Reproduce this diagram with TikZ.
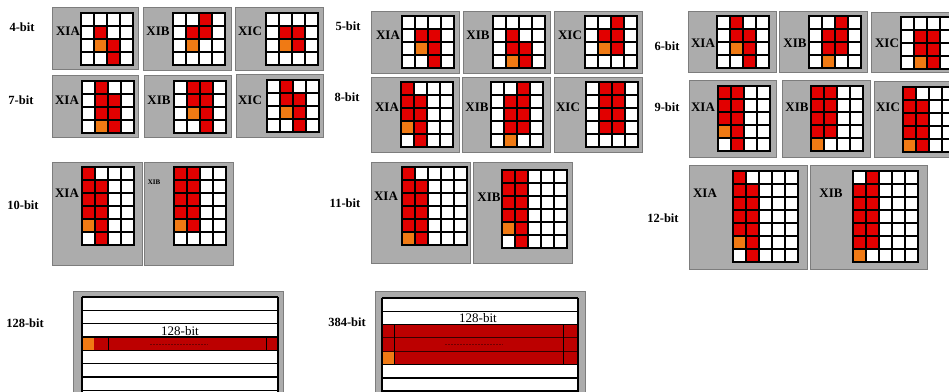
\documentclass[tikz,border=0pt]{standalone}
\usepackage{fontspec}
\setmainfont{Liberation Serif}

\definecolor{panelgray}{RGB}{172,172,172}
\definecolor{paneledge}{RGB}{125,125,125}
\definecolor{bitred}{RGB}{226,0,0}
\definecolor{bitorange}{RGB}{240,122,20}
\definecolor{rowred}{RGB}{188,0,0}

% one grid of cells: origin, columns, rows, coloured cells (col/row/colour)
\newcommand{\bitgrid}[4]{%
  \begin{scope}[shift={#1}]
    \fill[white] (0,0) rectangle (13*#2,13*#3);
    \foreach \cx/\ry/\kk in {#4}
      \fill[\kk] (13*\cx,13*\ry) rectangle ++(13,13);
    \foreach \i in {0,...,#2}
      \draw[cellline] (13*\i,0) -- (13*\i,13*#3);
    \foreach \j in {0,...,#3}
      \draw[cellline] (0,13*\j) -- (13*#2,13*\j);
  \end{scope}}

\begin{document}
\begin{tikzpicture}[
x=1pt, y=-1pt,
panel/.style={fill=panelgray, draw=paneledge, line width=0.8pt},
cellline/.style={black, line width=1.6pt, line cap=rect},
rowline/.style={black, line width=1.6pt},
sizelabel/.style={font=\bfseries\fontsize{12.5}{14}\selectfont, inner sep=0pt},
tag/.style={font=\bfseries\fontsize{13}{14}\selectfont, inner sep=0pt},
smalltag/.style={font=\bfseries\fontsize{7}{8}\selectfont, inner sep=0pt},
rowtext/.style={font=\fontsize{13}{14}\selectfont, inner sep=0pt},
gapline/.style={rowred!60!black, dash pattern=on 2pt off 1pt, line width=0.6pt}
]
\useasboundingbox (0,0) rectangle (949,391);
\clip (0,0) rectangle (949,391);

% --- 4-bit ---
\node[sizelabel] (bit4) at (22,27) {4-bit};
\draw[panel] (52,7) rectangle (138,69);
\bitgrid{(81,13)}{4}{4}{1/1/bitred,2/2/bitred,2/3/bitred,1/2/bitorange}
\node[tag] (bit4a) at (68,31) {XIA};
\draw[panel] (143,7) rectangle (231,70);
\bitgrid{(173,13)}{4}{4}{2/0/bitred,1/1/bitred,2/1/bitred,1/2/bitorange}
\node[tag] (bit4b) at (158,31) {XIB};
\draw[panel] (235,7) rectangle (323,70);
\bitgrid{(266,13)}{4}{4}{1/1/bitred,2/1/bitred,2/2/bitred,1/2/bitorange}
\node[tag] (bit4c) at (250,31) {XIC};

% --- 7-bit ---
\node[sizelabel] (bit7) at (21,100) {7-bit};
\draw[panel] (52,75) rectangle (138,137);
\bitgrid{(82,81)}{4}{4}{1/0/bitred,1/1/bitred,1/2/bitred,2/1/bitred,2/2/bitred,2/3/bitred,1/3/bitorange}
\node[tag] (bit7a) at (67,100) {XIA};
\draw[panel] (144,75) rectangle (231,137);
\bitgrid{(174,81)}{4}{4}{1/0/bitred,1/1/bitred,2/0/bitred,2/1/bitred,2/2/bitred,2/3/bitred,1/2/bitorange}
\node[tag] (bit7b) at (159,100) {XIB};
\draw[panel] (236,74) rectangle (323,137);
\bitgrid{(267,80)}{4}{4}{1/0/bitred,1/1/bitred,2/1/bitred,2/2/bitred,2/3/bitred,1/2/bitorange}
\node[tag] (bit7c) at (250,100) {XIC};

% --- 5-bit ---
\node[sizelabel] (bit5) at (348,26) {5-bit};
\draw[panel] (371,11) rectangle (459,73);
\bitgrid{(402,16)}{4}{4}{1/1/bitred,2/1/bitred,2/2/bitred,2/3/bitred,1/2/bitorange}
\node[tag] (bit5a) at (388,35) {XIA};
\draw[panel] (463,11) rectangle (550,73);
\bitgrid{(493,16)}{4}{4}{1/1/bitred,1/2/bitred,2/2/bitred,2/3/bitred,1/3/bitorange}
\node[tag] (bit5b) at (478,35) {XIB};
\draw[panel] (554,11) rectangle (642,73);
\bitgrid{(585,16)}{4}{4}{2/0/bitred,2/1/bitred,2/2/bitred,1/1/bitred,1/2/bitorange}
\node[tag] (bit5c) at (570,35) {XIC};

% --- 8-bit ---
\node[sizelabel] (bit8) at (347,97) {8-bit};
\draw[panel] (371,77) rectangle (459,152);
\bitgrid{(401,82)}{4}{5}{0/0/bitred,0/1/bitred,0/2/bitred,1/1/bitred,1/2/bitred,1/3/bitred,1/4/bitred,0/3/bitorange}
\node[tag] (bit8a) at (387,107) {XIA};
\draw[panel] (462,77) rectangle (550,152);
\bitgrid{(491,82)}{4}{5}{2/0/bitred,2/1/bitred,2/2/bitred,2/3/bitred,1/1/bitred,1/2/bitred,1/3/bitred,1/4/bitorange}
\node[tag] (bit8b) at (477,107) {XIB};
\draw[panel] (554,77) rectangle (642,152);
\bitgrid{(586,82)}{4}{5}{1/0/bitred,1/1/bitred,1/2/bitred,1/3/bitred,2/0/bitred,2/1/bitred,2/2/bitred,2/3/bitred}
\node[tag] (bit8c) at (568,107) {XIC};

% --- 6-bit ---
\node[sizelabel] (bit6) at (667,46) {6-bit};
\draw[panel] (688,11) rectangle (776,72);
\bitgrid{(717,16)}{4}{4}{1/0/bitred,1/1/bitred,2/1/bitred,2/2/bitred,2/3/bitred,1/2/bitorange}
\node[tag] (bit6a) at (703,43) {XIA};
\draw[panel] (779,11) rectangle (867,72);
\bitgrid{(809,16)}{4}{4}{2/0/bitred,2/1/bitred,2/2/bitred,1/1/bitred,1/2/bitred,1/3/bitorange}
\node[tag] (bit6b) at (795,43) {XIB};
\draw[panel] (871,12) rectangle (960,72);
\bitgrid{(901,17)}{4}{4}{1/1/bitred,1/2/bitred,2/1/bitred,2/2/bitred,2/3/bitred,1/3/bitorange}
\node[tag] (bit6c) at (887,43) {XIC};

% --- 9-bit ---
\node[sizelabel] (bit9) at (667,107) {9-bit};
\draw[panel] (689,80) rectangle (776,157);
\bitgrid{(718,86)}{4}{5}{0/0/bitred,0/1/bitred,0/2/bitred,1/0/bitred,1/1/bitred,1/2/bitred,1/3/bitred,1/4/bitred,0/3/bitorange}
\node[tag] (bit9a) at (703,107) {XIA};
\draw[panel] (782,80) rectangle (870,157);
\bitgrid{(811,86)}{4}{5}{0/0/bitred,0/1/bitred,0/2/bitred,0/3/bitred,1/0/bitred,1/1/bitred,1/2/bitred,1/3/bitred,0/4/bitorange}
\node[tag] (bit9b) at (797,107) {XIB};
\draw[panel] (874,81) rectangle (962,157);
\bitgrid{(903,87)}{4}{5}{0/0/bitred,0/1/bitred,0/2/bitred,0/3/bitred,1/1/bitred,1/2/bitred,1/3/bitred,1/4/bitred,0/4/bitorange}
\node[tag] (bit9c) at (888,107) {XIC};

% --- 10-bit ---
\node[sizelabel] (bit10) at (23,205) {10-bit};
\draw[panel] (52,162) rectangle (142,265);
\bitgrid{(82,167)}{4}{6}{0/0/bitred,0/1/bitred,0/2/bitred,0/3/bitred,1/1/bitred,1/2/bitred,1/3/bitred,1/4/bitred,1/5/bitred,0/4/bitorange}
\node[tag] (bit10a) at (67,193) {XIA};
\draw[panel] (144,162) rectangle (233,265);
\bitgrid{(174,167)}{4}{6}{0/0/bitred,0/1/bitred,0/2/bitred,0/3/bitred,1/0/bitred,1/1/bitred,1/2/bitred,1/3/bitred,1/4/bitred,0/4/bitorange}
\node[smalltag] (bit10b) at (154,182) {XIB};

% --- 11-bit ---
\node[sizelabel] (bit11) at (345,203) {11-bit};
\draw[panel] (371,162) rectangle (470,263);
\bitgrid{(402,167)}{5}{6}{0/0/bitred,0/1/bitred,0/2/bitred,0/3/bitred,0/4/bitred,1/1/bitred,1/2/bitred,1/3/bitred,1/4/bitred,1/5/bitred,0/5/bitorange}
\node[tag] (bit11a) at (386,196) {XIA};
\draw[panel] (473,162) rectangle (572,263);
\bitgrid{(502,170)}{5}{6}{0/0/bitred,0/1/bitred,0/2/bitred,0/3/bitred,1/0/bitred,1/1/bitred,1/2/bitred,1/3/bitred,1/4/bitred,1/5/bitred,0/4/bitorange}
\node[tag] (bit11b) at (489,197) {XIB};

% --- 12-bit ---
\node[sizelabel] (bit12) at (663,218) {12-bit};
\draw[panel] (689,165) rectangle (807,269);
\bitgrid{(733,171)}{5}{7}{0/0/bitred,0/1/bitred,0/2/bitred,0/3/bitred,0/4/bitred,1/1/bitred,1/2/bitred,1/3/bitred,1/4/bitred,1/5/bitred,1/6/bitred,0/5/bitorange}
\node[tag] (bit12a) at (705,193) {XIA};
\draw[panel] (810,165) rectangle (927,269);
\bitgrid{(853,171)}{5}{7}{0/1/bitred,0/2/bitred,0/3/bitred,0/4/bitred,0/5/bitred,1/0/bitred,1/1/bitred,1/2/bitred,1/3/bitred,1/4/bitred,1/5/bitred,0/6/bitorange}
\node[tag] (bit12b) at (831,193) {XIB};

% --- 128-bit ---
\node[sizelabel] (bit128) at (25,323) {128-bit};
\draw[panel] (73,291) rectangle (283,400);
\fill[white] (82,297) rectangle (278,400);
\fill[rowred] (82,337) rectangle (278,350.3);
\fill[bitorange] (82,337) rectangle (94,350.3);
\foreach \y in {297,310.3,323.6,337,350.3,363.6,377,390.3}
  \draw[rowline] (82,\y) -- (278,\y);
\draw[rowline] (82,297) -- (82,400) (278,297) -- (278,400);
\draw[black, line width=0.8pt] (108,337) -- (108,350.3) (266,337) -- (266,350.3);
\draw[gapline] (150,344) -- (208,344);
\node[rowtext] (row128) at (180,331) {128-bit};

% --- 384-bit ---
\node[sizelabel] (bit384) at (347,322) {384-bit};
\draw[panel] (375,291) rectangle (585,400);
\fill[white] (382,298) rectangle (578,400);
\fill[rowred] (382,324.6) rectangle (578,364.5);
\fill[bitorange] (382,351.2) rectangle (394,364.5);
\foreach \y in {298,311.3,324.6,364.5,377.8,391}
  \draw[rowline] (382,\y) -- (578,\y);
\draw[black!70!rowred, line width=0.9pt] (382,337.9) -- (578,337.9) (382,351.2) -- (578,351.2);
\draw[rowline] (382,298) -- (382,400) (578,298) -- (578,400);
\draw[black, line width=0.8pt] (394,324.6) -- (394,364.5) (563,324.6) -- (563,364.5);
\draw[gapline] (445,344) -- (503,344);
\node[rowtext] (row384) at (478,318) {128-bit};

\end{tikzpicture}
\end{document}
